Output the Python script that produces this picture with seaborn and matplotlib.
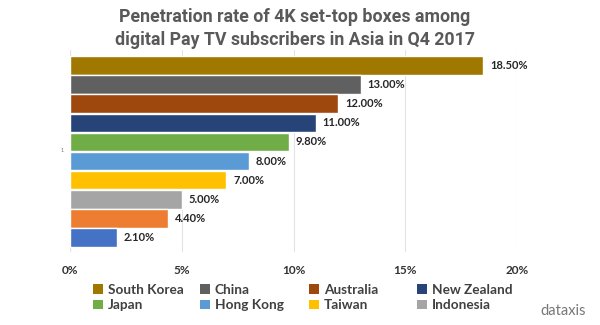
import matplotlib
matplotlib.use("Agg")
import matplotlib.pyplot as plt
import seaborn as sns
import pandas as pd
from matplotlib.patches import Patch

countries = ["South Korea", "China", "Australia", "New Zealand", "Japan",
             "Hong Kong", "Taiwan", "Indonesia", "Series 9", "Series 10"]
values = [18.5, 13.0, 12.0, 11.0, 9.8, 8.0, 7.0, 5.0, 4.4, 2.1]
colors = ["#A07800", "#606060", "#9E480E", "#264478", "#70AD47",
          "#5B9BD5", "#FFC000", "#A5A5A5", "#ED7D31", "#4472C4"]
legend_labels = countries[:8]
x_ticks = [0, 5, 10, 15, 20]
title = "Penetration rate of 4K set-top boxes among\ndigital Pay TV subscribers in Asia in Q4 2017"

sns.set_theme(style="white")
plt.rcParams["font.family"] = ["Lato", "DejaVu Sans"]

df = pd.DataFrame({"country": countries, "value": values})
fig = plt.figure(figsize=(6, 3.25), dpi=100)
ax = fig.add_axes([70/600, 1-252/325, (517-70)/600, (252-50)/325])

sns.barplot(data=df, y="country", x="value", hue="country", palette=colors,
            orient="h", width=0.96, legend=False, ax=ax, saturation=1)

ax.set_xlim(0, 20)
ax.set_ylim(9.75, -0.8)
ax.set_xticks(x_ticks)
ax.set_xticklabels([f"{t}%" for t in x_ticks], fontsize=8.5, fontweight="bold",
                   color="#333333")
ax.tick_params(axis="x", length=0, pad=9)
ax.set_yticks([])
ax.set_xlabel("")
ax.set_ylabel("")
ax.grid(axis="x", color="#E3E3E3", linewidth=0.8)
ax.set_axisbelow(True)
for s in ax.spines.values():
    s.set_visible(False)
ax.axvline(0, color="#D9D9D9", linewidth=0.8, zorder=0)

for p, v in zip(ax.patches, values):
    ax.text(p.get_width() + 0.3, p.get_y() + p.get_height()/2, f"{v:.2f}%",
            va="center", ha="left", fontsize=8, fontweight="bold", color="#262626")

fig.text(62/600, 1-150/325, "1", fontsize=4, color="#777777", ha="center", va="center")

fig.text(295/600, 1-28.5/325, title, ha="center", va="center", fontsize=12.8,
         fontweight="bold", color="#595959", linespacing=1.35,
         family=["Roboto", "DejaVu Sans"])

col_x = [93, 200, 309, 417]
for c in range(4):
    hs = [Patch(facecolor=colors[c], edgecolor="none"),
          Patch(facecolor=colors[c+4], edgecolor="none")]
    fig.legend(hs, [legend_labels[c], legend_labels[c+4]], loc="upper left",
               bbox_to_anchor=(col_x[c]/600, 1-284/325), frameon=False,
               handlelength=0.7, handleheight=0.7, handletextpad=0.4,
               labelspacing=0.25, borderpad=0, borderaxespad=0,
               prop={"family": ["Lato", "DejaVu Sans"], "weight": "bold", "size": 9.8})
for leg in fig.legends:
    for t in leg.get_texts():
        t.set_color("#404040")

fig.text(563/600, 1-311/325, "dataxis", ha="center", va="center", fontsize=10.5,
         color="#777777")

fig.savefig("out.png", dpi=100)
